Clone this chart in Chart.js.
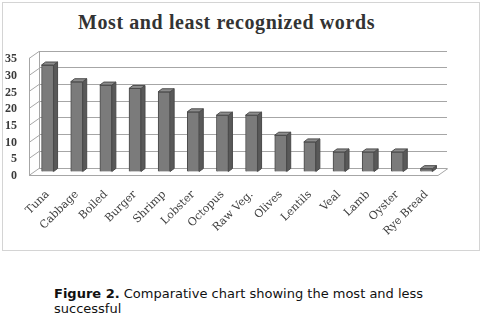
<!DOCTYPE html>
<html lang="en">
<head>
    <meta charset="UTF-8">
    <title>Most and least recognized words</title>
    <script src="https://cdn.jsdelivr.net/npm/chart.js"></script>
    <style>
        body { margin: 0; background: #fff; width: 482px; height: 329px; position: relative; overflow: hidden; }
        #frame { position: absolute; left: 2px; top: 2px; width: 476px; height: 247px; border: 1px solid #d4d4d4; }
        #chartBox { position: absolute; left: 0; top: 0; width: 482px; height: 255px; }
        #title { position: absolute; left: 0; width: 453px; top: 11px; text-align: center; line-height: 20px;
                 font: bold 20px "Liberation Serif", serif; letter-spacing: 0.6px; color: #333; }
        #caption { position: absolute; left: 54px; top: 286px; width: 400px;
                   font: 13px "DejaVu Sans", Verdana, sans-serif; line-height: 15px; color: #111; }
    </style>
</head>
<body>
    <div id="frame"></div>
    <div id="title">Most and least recognized words</div>
    <div id="chartBox"><canvas id="wordsChart" width="482" height="255"></canvas></div>
    <div id="caption"><b>Figure 2.</b> Comparative chart showing the most and less successful</div>

    <script>
        const words = ["Tuna", "Cabbage", "Boiled", "Burger", "Shrimp", "Lobster", "Octopus",
                       "Raw Veg.", "Olives", "Lentils", "Veal", "Lamb", "Oyster", "Rye Bread"];
        const counts = [32, 27, 26, 25, 24, 18, 17, 17, 11, 9, 6, 6, 6, 1];
        const yTicks = [0, 5, 10, 15, 20, 25, 30, 35];

        // fake 3d: how far the front of the bars / walls sits from the back wall
        const shiftX = -6, shiftY = 4;
        const depthX = 4, depthY = -3;

        const box3d = {
            id: "box3d",
            beforeDatasetsDraw(chart) {
                const ctx = chart.ctx;
                const a = chart.chartArea;
                const y = chart.scales.y;
                ctx.save();
                ctx.strokeStyle = "#a6a6a6";
                ctx.lineWidth = 1;
                ctx.beginPath();
                // side wall
                ctx.moveTo(a.left + 0.5, a.top);
                ctx.lineTo(a.left + 0.5, a.bottom);
                ctx.moveTo(a.left - 9.5, a.top + 7);
                ctx.lineTo(a.left - 9.5, a.bottom + 7);
                yTicks.forEach(v => {
                    const py = Math.round(y.getPixelForValue(v)) + 0.5;
                    ctx.moveTo(a.left, py);
                    ctx.lineTo(a.left - 10, py + 7);
                });
                // floor
                const fy = Math.round(a.bottom) + 7.5;
                ctx.moveTo(a.left - 10, fy);
                ctx.lineTo(a.right - 9, fy);
                ctx.lineTo(a.right + 1, Math.round(a.bottom) + 0.5);
                ctx.stroke();
                ctx.restore();

                ctx.save();
                ctx.translate(shiftX, shiftY);
            },
            afterDatasetsDraw(chart) {
                const ctx = chart.ctx;
                chart.getDatasetMeta(0).data.forEach(bar => {
                    const l = bar.x - bar.width / 2, r = bar.x + bar.width / 2;
                    const t = bar.y, b = bar.base;
                    // side face
                    ctx.beginPath();
                    ctx.moveTo(r, t);
                    ctx.lineTo(r + depthX, t + depthY);
                    ctx.lineTo(r + depthX, b + depthY);
                    ctx.lineTo(r, b);
                    ctx.closePath();
                    ctx.fillStyle = "#595959";
                    ctx.fill();
                    ctx.strokeStyle = "#4a4a4a";
                    ctx.stroke();
                    // top face
                    ctx.beginPath();
                    ctx.moveTo(l, t);
                    ctx.lineTo(l + depthX, t + depthY);
                    ctx.lineTo(r + depthX, t + depthY);
                    ctx.lineTo(r, t);
                    ctx.closePath();
                    ctx.fillStyle = "#8c8c8c";
                    ctx.fill();
                    ctx.stroke();
                });
                ctx.restore();
            }
        };

        new Chart(document.getElementById("wordsChart"), {
            type: "bar",
            data: {
                labels: words,
                datasets: [{
                    data: counts,
                    backgroundColor: "#7b7b7b",
                    borderColor: "#4a4a4a",
                    borderWidth: 1,
                    barThickness: 12,
                    clip: false
                }]
            },
            options: {
                responsive: false,
                animation: false,
                layout: { padding: { left: 0, right: 35, top: 51, bottom: 0 } },
                plugins: { legend: { display: false }, tooltip: { enabled: false } },
                scales: {
                    x: {
                        grid: { display: false, drawTicks: false },
                        border: { display: false },
                        ticks: {
                            maxRotation: 45, minRotation: 45,
                            autoSkip: false,
                            labelOffset: -6,
                            padding: 20,
                            color: "#404040",
                            font: { family: "DejaVu Serif", size: 11 }
                        },
                        afterFit: s => { s.height = 87; }
                    },
                    y: {
                        min: 0, max: 35,
                        afterBuildTicks: s => { s.ticks = yTicks.map(v => ({ value: v })); },
                        grid: { color: "#a6a6a6", drawTicks: false },
                        border: { display: false },
                        ticks: {
                            autoSkip: false,
                            padding: 22,
                            labelOffset: 8,
                            color: "#3a3a3a",
                            font: { family: "Liberation Serif", size: 12, weight: "bold" }
                        },
                        afterFit: s => { s.width = 39; }
                    }
                }
            },
            plugins: [box3d]
        });
    </script>
</body>
</html>
